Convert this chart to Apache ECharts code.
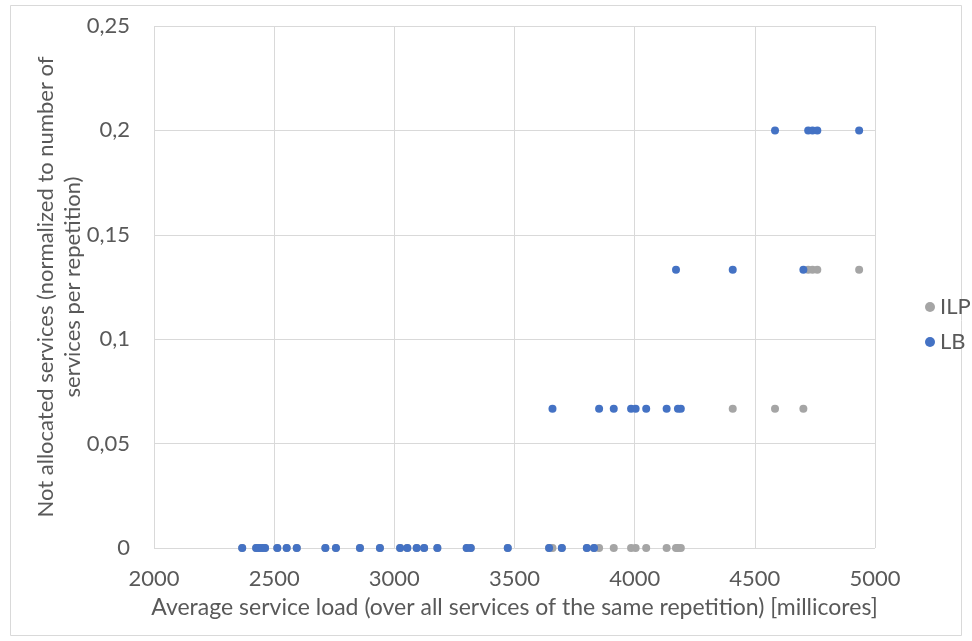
<!DOCTYPE html>
<html>
<head>
<meta charset="utf-8">
<script src="https://cdn.jsdelivr.net/npm/echarts@6/dist/echarts.min.js"></script>
<style>
  html, body { margin: 0; padding: 0; background: #fff; }
  #chart { width: 972px; height: 641px; }
</style>
</head>
<body>
<div id="chart"></div>
<script>
// One entry per repetition: average service load and the share of services
// that each strategy could not allocate.
const avgLoad = [
  2367, 2425, 2437, 2450, 2462, 2513, 2552, 2594, 2713, 2757,
  2857, 2940, 3024, 3054, 3093, 3124, 3179, 3301, 3318, 3472,
  3644, 3697, 3801, 3831, 3658, 3852, 3913, 3985, 4004, 4048,
  4133, 4180, 4192, 4172, 4408, 4584, 4702, 4722, 4740, 4760, 4934
];
const ilpNotAllocated = [
  0, 0, 0, 0, 0, 0, 0, 0, 0, 0,
  0, 0, 0, 0, 0, 0, 0, 0, 0, 0,
  0, 0, 0, 0, 0, 0, 0, 0, 0, 0,
  0, 0, 0, 0, 0.0667, 0.0667, 0.0667, 0.1333, 0.1333, 0.1333, 0.1333
];
const lbNotAllocated = [
  0, 0, 0, 0, 0, 0, 0, 0, 0, 0,
  0, 0, 0, 0, 0, 0, 0, 0, 0, 0,
  0, 0, 0, 0, 0.0667, 0.0667, 0.0667, 0.0667, 0.0667, 0.0667,
  0.0667, 0.0667, 0.0667, 0.1333, 0.1333, 0.2, 0.1333, 0.2, 0.2, 0.2, 0.2
];
const seriesNames = ['ILP', 'LB'];
const xTitle = 'Average service load (over all services of the same repetition) [millicores]';
const yTitle = 'Not allocated services (normalized to number of\nservices per repetition)';

const FONT = 'Lato';
const FS = 22;
const TEXT = '#595959';
const GRID = '#D9D9D9';

const pairs = (ys) => avgLoad.map((x, i) => [x, ys[i]]);

const chart = echarts.init(document.getElementById('chart'), null, { renderer: 'canvas' });
chart.setOption({
  animation: false,
  backgroundColor: '#fff',
  textStyle: { fontFamily: FONT, color: TEXT },
  graphic: [{
    type: 'rect',
    shape: { x: 10.5, y: 5.5, width: 951, height: 630 },
    style: { fill: 'none', stroke: '#D9D9D9', lineWidth: 1 },
    silent: true
  }],
  grid: { left: 154, right: 97, top: 26, bottom: 93 },
  legend: {
    orient: 'vertical',
    left: 920,
    top: 291,
    itemGap: 13,
    itemWidth: 10,
    itemHeight: 10,
    icon: 'circle',
    textStyle: { fontFamily: FONT, fontSize: FS, color: TEXT },
    data: seriesNames
  },
  xAxis: {
    type: 'value',
    min: 2000, max: 5000, interval: 500,
    name: xTitle,
    nameLocation: 'middle',
    nameGap: 48,
    nameTextStyle: { fontFamily: FONT, fontSize: 23, color: TEXT },
    axisLine: { show: false },
    axisTick: { show: false },
    axisLabel: {
      fontFamily: FONT, fontSize: FS, color: TEXT, margin: 20,
      formatter: (v) => String(v)
    },
    splitLine: { show: true, lineStyle: { color: GRID, width: 1 } }
  },
  yAxis: {
    type: 'value',
    min: 0, max: 0.25, interval: 0.05,
    name: yTitle,
    nameLocation: 'middle',
    nameRotate: 90,
    nameGap: 68,
    nameMoveOverlap: false,
    nameTextStyle: { fontFamily: FONT, fontSize: FS, color: TEXT, lineHeight: 27 },
    axisLine: { show: false },
    axisTick: { show: false },
    axisLabel: {
      fontFamily: FONT, fontSize: FS, color: TEXT, margin: 24,
      formatter: (v) => String(Math.round(v * 100) / 100).replace('.', ',')
    },
    splitLine: { show: true, lineStyle: { color: GRID, width: 1 } }
  },
  series: [
    {
      name: seriesNames[0],
      type: 'scatter',
      symbolSize: 8,
      itemStyle: { color: '#A5A5A5', opacity: 1 },
      data: pairs(ilpNotAllocated)
    },
    {
      name: seriesNames[1],
      type: 'scatter',
      symbolSize: 8,
      itemStyle: { color: '#4472C4', opacity: 1 },
      data: pairs(lbNotAllocated)
    }
  ]
});
</script>
</body>
</html>
